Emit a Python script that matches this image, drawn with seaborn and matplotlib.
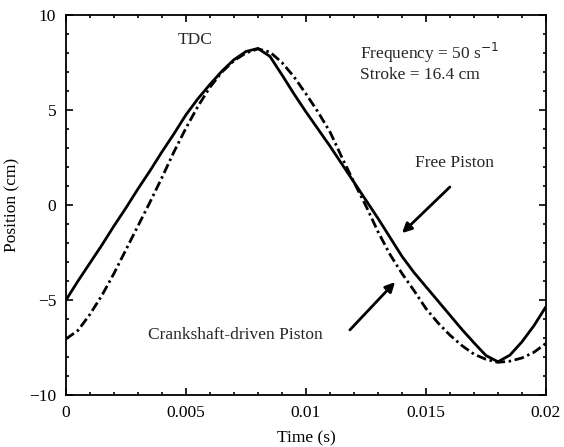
import numpy as np
import pandas as pd
import matplotlib
matplotlib.use("Agg")
import matplotlib.pyplot as plt
import seaborn as sns
from matplotlib.ticker import MultipleLocator, FixedLocator

# ---- data ----
time_s = [0.0000, 0.0005, 0.0010, 0.0015, 0.0020, 0.0025, 0.0030, 0.0035, 0.0040,
          0.0045, 0.0050, 0.0055, 0.0060, 0.0065, 0.0070, 0.0075, 0.0080, 0.0085,
          0.0090, 0.0095, 0.0100, 0.0105, 0.0110, 0.0115, 0.0120, 0.0125, 0.0130,
          0.0135, 0.0140, 0.0145, 0.0150, 0.0155, 0.0160, 0.0165, 0.0170, 0.0175,
          0.0180, 0.0185, 0.0190, 0.0195, 0.0200]

free_piston = [-5.0, -4.0, -3.05, -2.1, -1.1, -0.15, 0.85, 1.8, 2.8,
               3.75, 4.75, 5.6, 6.35, 7.05, 7.65, 8.08, 8.24, 7.82,
               6.85, 5.85, 4.9, 4.0, 3.1, 2.15, 1.2, 0.25, -0.7,
               -1.7, -2.7, -3.55, -4.3, -5.05, -5.8, -6.55, -7.25, -7.92,
               -8.25, -7.9, -7.2, -6.35, -5.35]

crankshaft_piston = [-7.05, -6.6, -5.75, -4.75, -3.6, -2.35, -1.1, 0.15, 1.45,
                     2.8, 4.05, 5.2, 6.2, 7.0, 7.6, 8.0, 8.22, 8.05,
                     7.5, 6.75, 5.85, 4.9, 3.85, 2.5, 1.2, -0.05, -1.4,
                     -2.6, -3.6, -4.5, -5.45, -6.2, -6.85, -7.4, -7.85, -8.12,
                     -8.28, -8.22, -8.05, -7.75, -7.28]

x_ticks = [0, 0.005, 0.01, 0.015, 0.02]
x_tick_labels = ["0", "0.005", "0.01", "0.015", "0.02"]
y_ticks = [-10, -5, 0, 5, 10]
y_tick_labels = ["\u221210", "\u22125", "0", "5", "10"]

df = pd.DataFrame({
    "t": time_s * 2,
    "pos": free_piston + crankshaft_piston,
    "series": ["Free Piston"] * len(time_s) + ["Crankshaft-driven Piston"] * len(time_s),
})

sns.set_theme(style="ticks")
plt.rcParams["font.family"] = ["Liberation Serif", "DejaVu Serif"]
plt.rcParams["axes.unicode_minus"] = True

fig = plt.figure(figsize=(5.64, 4.47), dpi=100)
ax = fig.add_axes([0.117, 0.1163, 0.851, 0.8501])

sns.lineplot(data=df, x="t", y="pos", hue="series", style="series",
             palette={"Free Piston": "black", "Crankshaft-driven Piston": "black"},
             dashes={"Free Piston": "", "Crankshaft-driven Piston": (3.5, 1.3, 0.9, 1.3)},
             linewidth=2.0, legend=False, ax=ax, sort=False)
for line in ax.get_lines():
    line.set_solid_joinstyle("round")
    line.set_dash_joinstyle("round")

ax.set_xlim(0, 0.02)
ax.set_ylim(-10, 10)
ax.xaxis.set_major_locator(FixedLocator(x_ticks))
ax.set_xticklabels(x_tick_labels)
ax.yaxis.set_major_locator(FixedLocator(y_ticks))
ax.set_yticklabels(y_tick_labels)
ax.xaxis.set_minor_locator(MultipleLocator(0.001))
ax.yaxis.set_minor_locator(MultipleLocator(1))
ax.tick_params(which="both", direction="in", top=True, right=True, colors="black",
               labelsize=12.5, width=1.2)
ax.tick_params(which="major", length=5, pad=7)
ax.tick_params(which="minor", length=2.5)
for s in ax.spines.values():
    s.set_linewidth(1.3)
    s.set_color("black")

ax.set_xlabel("Time (s)", fontsize=12.5, labelpad=7, color="black")
ax.set_ylabel("Position (cm)", fontsize=12.5, labelpad=6, color="black")

ax.text(0.00538, 8.68, "TDC", fontsize=12.5, ha="center", va="center")
ax.text(0.01225, 8.0, "Frequency = 50 s$^{\u22121}$", fontsize=12.5, ha="left", va="center")
ax.text(0.01225, 6.84, "Stroke = 16.4 cm", fontsize=12.5, ha="left", va="center")

ax.annotate("", xy=(0.01392, -1.58), xytext=(0.01608, 1.05),
            arrowprops=dict(arrowstyle="-|>", color="black", lw=2, mutation_scale=14))
ax.text(0.0162, 2.2, "Free Piston", fontsize=12.5, ha="center", va="center")

ax.annotate("", xy=(0.01379, -3.95), xytext=(0.01175, -6.68),
            arrowprops=dict(arrowstyle="-|>", color="black", lw=2, mutation_scale=14))
ax.text(0.00342, -6.84, "Crankshaft-driven Piston", fontsize=12.5, ha="left", va="center")

fig.savefig("out.png", dpi=100, facecolor="white")
